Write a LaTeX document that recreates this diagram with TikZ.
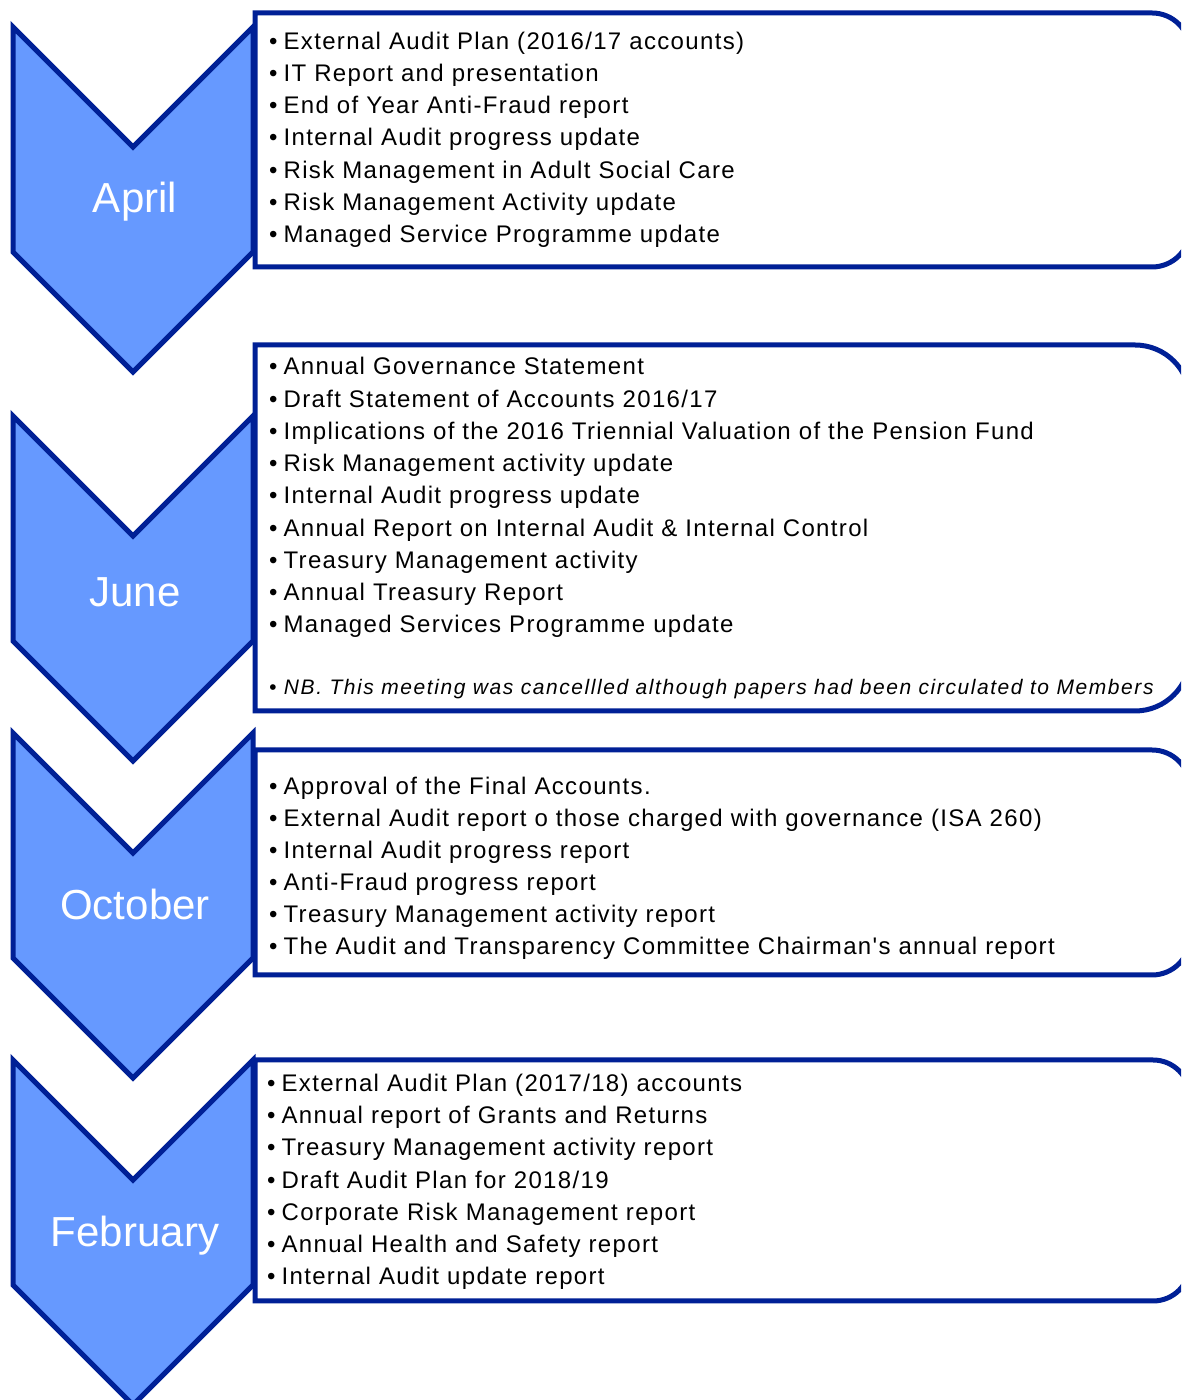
\documentclass[tikz,border=0pt]{standalone}
\usepackage{fontspec}
\setmainfont{Liberation Sans}
\newfontfamily\itemfont[LetterSpace=5.6]{Liberation Sans}
\newfontfamily\nbfont[LetterSpace=7.5]{Liberation Sans}
\newfontfamily\monthfont{Liberation Sans}
\definecolor{edgeblue}{RGB}{0,32,150}
\definecolor{chevfill}{RGB}{102,153,255}
\newcommand\bul{•\hspace{6pt}}
\begin{document}
\begin{tikzpicture}[x=1pt,y=1pt,
  chevron/.style={fill=chevfill,draw=edgeblue,line width=5pt,line join=miter},
  panel/.style={fill=white,draw=edgeblue,line width=5pt,line join=miter},
  month/.style={anchor=base,text=white,inner sep=0pt,font=\monthfont\fontsize{42}{50}\selectfont},
  item/.style={anchor=base west,inner sep=0pt,text=black,font=\itemfont\fontsize{24}{28}\selectfont},
  nbitem/.style={anchor=base west,inner sep=0pt,text=black,font=\nbfont\itshape\fontsize{21}{25}\selectfont}]
\useasboundingbox (0,0) rectangle (1181,1400);
\clip (0,0) rectangle (1181,1400);
\fill[white] (0,0) rectangle (1181,1400);
% chevrons
\draw[chevron] (13,1373) -- (133,1253) -- (253,1373) -- (253,1148) -- (133,1028) -- (13,1148) -- cycle;
\draw[chevron] (13,984) -- (133,864) -- (253,984) -- (253,759) -- (133,639) -- (13,759) -- cycle;
\draw[chevron] (13,667) -- (133,547) -- (253,667) -- (253,442) -- (133,322) -- (13,442) -- cycle;
\draw[chevron] (13,340) -- (133,220) -- (253,340) -- (253,115) -- (133,-5) -- (13,115) -- cycle;
% panels
\draw[panel] (255,1387) -- (1152,1387) arc[start angle=90,end angle=0,radius=38pt] -- (1190,1171) arc[start angle=0,end angle=-90,radius=38pt] -- (255,1133) -- cycle;
\draw[panel] (255,1055) -- (1135,1055) arc[start angle=90,end angle=0,radius=55pt] -- (1190,744) arc[start angle=0,end angle=-90,radius=55pt] -- (255,689) -- cycle;
\draw[panel] (255,650) -- (1152,650) arc[start angle=90,end angle=0,radius=38pt] -- (1190,463) arc[start angle=0,end angle=-90,radius=38pt] -- (255,425) -- cycle;
\draw[panel] (255,340) -- (1153,340) arc[start angle=90,end angle=0,radius=37pt] -- (1190,136) arc[start angle=0,end angle=-90,radius=37pt] -- (255,99) -- cycle;
% month labels
\node[month] (april) at (135,1187) {April};
\node[month] (june) at (135,793) {June};
\node[month] (october) at (135,480) {October};
\node[month] (february) at (135,153) {February};
% April items
\foreach \t [count=\i from 0] in {%
  {External Audit Plan (2016/17 accounts)},
  {IT Report and presentation},
  {End of Year Anti-Fraud report},
  {Internal Audit progress update},
  {Risk Management in Adult Social Care},
  {Risk Management Activity update},
  {Managed Service Programme update}}
  \node[item] (apr\i) at (269,{1350.5-32.17*\i}) {\bul\t};
% June items
\foreach \t [count=\i from 0] in {%
  {Annual Governance Statement},
  {Draft Statement of Accounts 2016/17},
  {Implications of the 2016 Triennial Valuation of the Pension Fund},
  {Risk Management activity update},
  {Internal Audit progress update},
  {Annual Report on Internal Audit \& Internal Control},
  {Treasury Management activity},
  {Annual Treasury Report},
  {Managed Services Programme update}}
  \node[item] (jun\i) at (269,{1025-32.25*\i}) {\bul\t};
\node[nbitem] (junnb) at (269,705) {• NB. This meeting was cancellled although papers had been circulated to Members};
% October items
\foreach \t [count=\i from 0] in {%
  {Approval of the Final Accounts.},
  {External Audit report o those charged with governance (ISA 260)},
  {Internal Audit progress report},
  {Anti-Fraud progress report},
  {Treasury Management activity report},
  {The Audit and Transparency Committee Chairman's annual report}}
  \node[item] (oct\i) at (269,{605.5-32*\i}) {\bul\t};
% February items
\foreach \t [count=\i from 0] in {%
  {External Audit Plan (2017/18) accounts},
  {Annual report of Grants and Returns},
  {Treasury Management activity report},
  {Draft Audit Plan for 2018/19},
  {Corporate Risk Management report},
  {Annual Health and Safety report},
  {Internal Audit update report}}
  \node[item] (feb\i) at (267,{308.5-32.17*\i}) {\bul\t};
\end{tikzpicture}
\end{document}
